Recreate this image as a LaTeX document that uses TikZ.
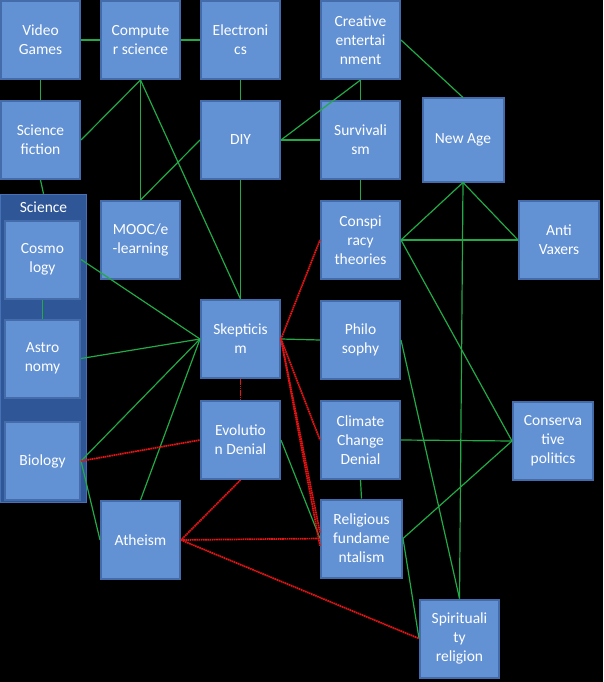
\documentclass[tikz,border=0pt]{standalone}
\usepackage{fontspec}
\setmainfont{Carlito}
\usetikzlibrary{positioning}
\definecolor{boxblue}{RGB}{98,145,212}
\definecolor{boxedge}{RGB}{68,108,170}
\definecolor{panelblue}{RGB}{47,87,152}
\definecolor{paneledge}{RGB}{72,112,180}
\definecolor{linkgreen}{RGB}{34,170,70}
\definecolor{clashred}{RGB}{230,20,20}

\begin{document}
\begin{tikzpicture}
    [   x=1pt,y=-1pt,
        topic/.style={draw=boxedge,fill=boxblue,line width=2pt,minimum width=#1,minimum height=78pt,
            inner sep=0pt,text=white,align=center,font=\fontsize{15.5}{19}\selectfont},
        topic/.default=79pt,
        panel/.style={draw=paneledge,fill=panelblue,line width=1.5pt,minimum width=86pt,minimum height=308pt,inner sep=0pt},
        link/.style={draw=linkgreen,line width=1.2pt},
        clash/.style={draw=clashred,line width=1.7pt,dash pattern=on 1.6pt off 0.6pt},
    ]
        \fill[black] (0,0) rectangle (603,682);
        \useasboundingbox (0,0) rectangle (603,682);
        % top rows
        \node[topic] (games) at (40.5,40) {Video\\Games};
        \node[topic] (comp) at (140.5,40) {Compute\\r science};
        \node[topic] (elec) at (240.5,40) {Electroni\\cs};
        \node[topic] (creat) at (360.5,40) {Creative\\entertai\\nment};
        \node[topic] (scifi) at (40.5,140) {Science\\fiction};
        \node[topic] (diy) at (240.5,140) {DIY};
        \node[topic] (surv) at (360.5,140) {Survivali\\sm};
        \node[topic=81pt,minimum height=83pt] (newage) at (463,140) {New Age};
        % science panel
        \node[panel] (sci) at (43.5,348.5) {};
        \node[text=white,font=\fontsize{15.5}{19}\selectfont,below=5pt of sci.north] (scilabel) {Science};
        \node[topic=75pt] (cosmo) at (42.5,259.5) {Cosmo\\logy};
        \node[topic=75pt] (astro) at (42.5,358.5) {Astro\\nomy};
        \node[topic=75pt] (bio) at (42.5,461) {Biology};
        % middle
        \node[topic] (mooc) at (140.5,240) {MOOC/e\\-learning};
        \node[topic] (consp) at (360.5,240) {Conspi\\racy\\theories};
        \node[topic=80pt] (anti) at (559,240) {Anti\\Vaxers};
        \node[topic] (skep) at (240.5,339) {Skepticis\\m};
        \node[topic] (philo) at (360.5,340) {Philo\\sophy};
        \node[topic] (evol) at (240.5,440) {Evolutio\\n Denial};
        \node[topic] (climate) at (360.5,440) {Climate\\Change\\Denial};
        \node[topic=80pt] (cons) at (553,441) {Conserva\\tive\\politics};
        % bottom
        \node[topic] (athe) at (140.5,540) {Atheism};
        \node[topic=81pt] (relig) at (361.5,538.5) {Religious\\fundame\\ntalism};
        \node[topic] (spirit) at (459.5,638.5) {Spirituali\\ty\\religion};
        \foreach \a/\b in {games.east/comp.west, comp.east/elec.west, games.south/scifi.north,
            scifi.east/comp.south, comp.south/mooc.north, comp.south/skep.north,
            elec.south/diy.north, diy.west/mooc.north, diy.east/surv.west, diy.east/creat.south,
            creat.south/surv.north, creat.east/newage.north, diy.south/skep.north,
            surv.south/consp.north, scifi.south/sci.north, cosmo.south/astro.north,
            cosmo.east/skep.west, astro.east/skep.west, bio.east/skep.west, athe.north/skep.west,
            bio.east/athe.west, skep.east/philo.west, evol.east/relig.west,
            climate.south/relig.north, climate.east/cons.west, relig.east/cons.west,
            relig.east/spirit.west, philo.east/spirit.north, newage.south/spirit.north,
            newage.south/consp.east, newage.south/anti.west, consp.east/anti.west, consp.east/cons.west}
        {   \draw[link] (\a) -- (\b);
        }
        \foreach \a/\b in {skep.east/consp.west, skep.south/evol.north, skep.east/climate.west,
            skep.east/relig.172, skep.east/relig.190, bio.east/evol.west, evol.south/athe.east,
            athe.east/relig.west, athe.east/spirit.west}
        {   \draw[clash] (\a) -- (\b);
        }
    \end{tikzpicture}
\end{document}
